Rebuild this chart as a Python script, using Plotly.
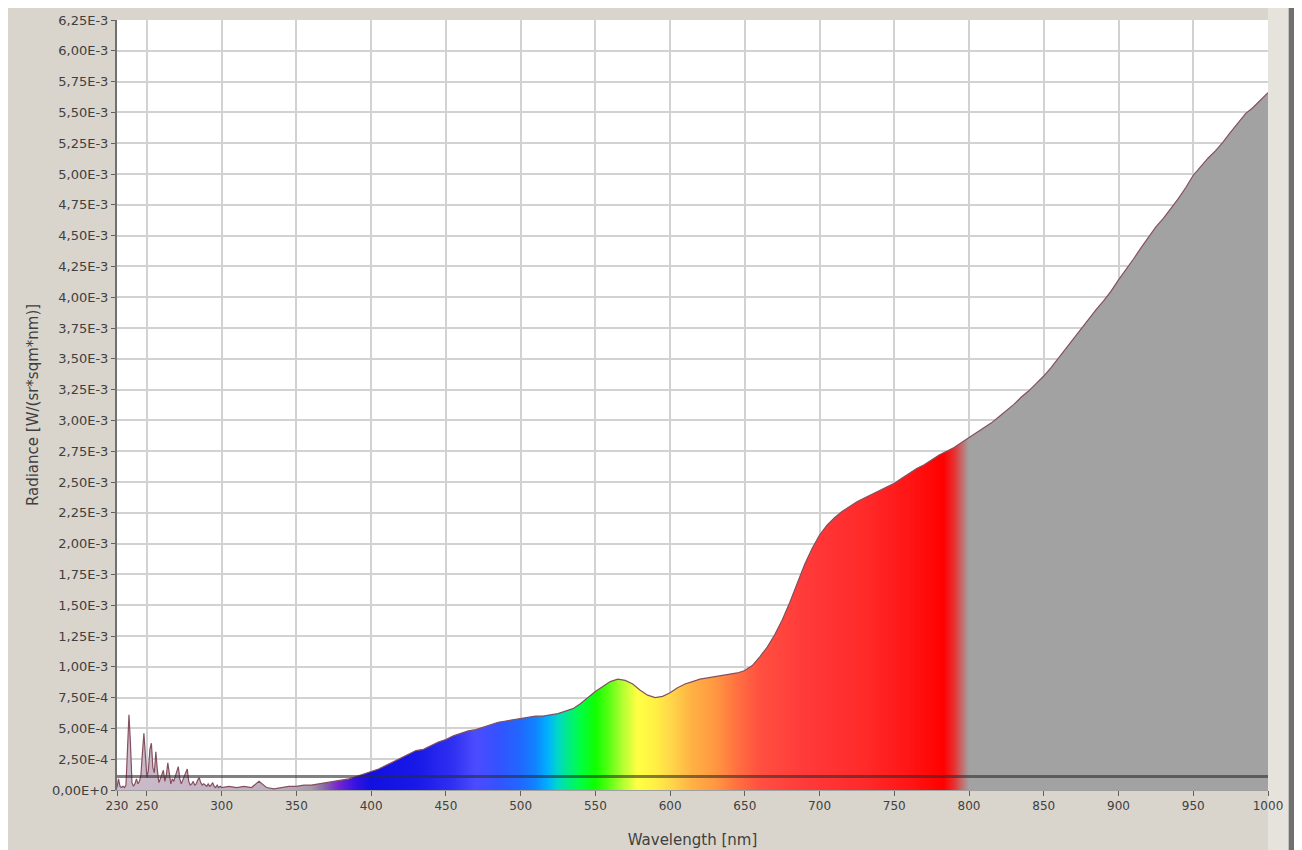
import plotly.graph_objects as go

# ---------------- data (radiance in units of 1E-3 W/(sr*sqm*nm)) ----------------
uv_wavelength_nm = list(range(230, 301))
uv_radiance_e3 = [
    0.02, 0.09, 0.03, 0.02, 0.03, 0.02, 0.04, 0.28, 0.61, 0.38,
    0.06, 0.03, 0.05, 0.09, 0.05, 0.07, 0.12, 0.30, 0.46, 0.28,
    0.10, 0.16, 0.33, 0.38, 0.18, 0.14, 0.31, 0.16, 0.06, 0.09,
    0.13, 0.16, 0.07, 0.12, 0.22, 0.13, 0.05, 0.09, 0.07, 0.11,
    0.15, 0.19, 0.09, 0.05, 0.08, 0.11, 0.14, 0.17, 0.07, 0.04,
    0.05, 0.07, 0.04, 0.05, 0.08, 0.10, 0.06, 0.04, 0.05, 0.04,
    0.03, 0.05, 0.03, 0.04, 0.06, 0.03, 0.02, 0.04, 0.02, 0.03,
    0.02,
]

vis_wavelength_nm = list(range(305, 1001, 5))
vis_radiance_e3 = [
    0.03, 0.02, 0.03, 0.02, 0.07, 0.02, 0.01, 0.02, 0.03, 0.03,   # 305-350
    0.04, 0.04, 0.05, 0.06, 0.07, 0.08, 0.09, 0.11, 0.13, 0.15,   # 355-400
    0.17, 0.20, 0.23, 0.26, 0.29, 0.32, 0.33, 0.36, 0.39, 0.41,   # 405-450
    0.44, 0.46, 0.48, 0.49, 0.51, 0.53, 0.55, 0.56, 0.57, 0.58,   # 455-500
    0.59, 0.60, 0.60, 0.61, 0.62, 0.64, 0.66, 0.70, 0.75, 0.80,   # 505-550
    0.84, 0.88, 0.90, 0.89, 0.86, 0.81, 0.77, 0.75, 0.76, 0.79,   # 555-600
    0.83, 0.86, 0.88, 0.90, 0.91, 0.92, 0.93, 0.94, 0.95, 0.97,   # 605-650
    1.01, 1.08, 1.16, 1.26, 1.38, 1.52, 1.67, 1.83, 1.96, 2.07,   # 655-700
    2.15, 2.21, 2.26, 2.30, 2.34, 2.37, 2.40, 2.43, 2.46, 2.49,   # 705-750
    2.53, 2.57, 2.61, 2.64, 2.68, 2.72, 2.75, 2.78, 2.82, 2.86,   # 755-800
    2.90, 2.94, 2.98, 3.03, 3.08, 3.13, 3.19, 3.24, 3.30, 3.36,   # 805-850
    3.43, 3.51, 3.58, 3.66, 3.74, 3.82, 3.90, 3.97, 4.05, 4.14,   # 855-900
    4.22, 4.31, 4.40, 4.49, 4.57, 4.64, 4.72, 4.80, 4.89, 4.99,   # 905-950
    5.06, 5.13, 5.19, 5.26, 5.34, 5.42, 5.49, 5.54, 5.60, 5.66,   # 955-1000
]

threshold_e3 = 0.11

x_tick_values = [230, 250, 300, 350, 400, 450, 500, 550, 600, 650, 700,
                 750, 800, 850, 900, 950, 1000]
x_tick_labels = ["230", "250", "300", "350", "400", "450", "500", "550", "600",
                 "650", "700", "750", "800", "850", "900", "950", "1000"]
y_tick_values_e3 = [0.0, 0.25, 0.5, 0.75, 1.0, 1.25, 1.5, 1.75, 2.0, 2.25, 2.5,
                    2.75, 3.0, 3.25, 3.5, 3.75, 4.0, 4.25, 4.5, 4.75, 5.0, 5.25,
                    5.5, 5.75, 6.0, 6.25]
y_tick_labels = ["0,00E+0", "2,50E-4", "5,00E-4", "7,50E-4", "1,00E-3", "1,25E-3",
                 "1,50E-3", "1,75E-3", "2,00E-3", "2,25E-3", "2,50E-3", "2,75E-3",
                 "3,00E-3", "3,25E-3", "3,50E-3", "3,75E-3", "4,00E-3", "4,25E-3",
                 "4,50E-3", "4,75E-3", "5,00E-3", "5,25E-3", "5,50E-3", "5,75E-3",
                 "6,00E-3", "6,25E-3"]

# ---------------- build ----------------
wavelength = uv_wavelength_nm + vis_wavelength_nm
radiance = [v * 1e-3 for v in uv_radiance_e3 + vis_radiance_e3]
y_tick_values = [v * 1e-3 for v in y_tick_values_e3]

X_MIN, X_MAX = 230, 1000
# spectral colour stops (style): wavelength -> colour
spectrum_stops = [
    (230, "#ccbccb"), (340, "#bfadbe"), (360, "#a898aa"), (368, "#8c6aa8"),
    (378, "#7424d0"), (390, "#3412e2"), (400, "#1010e0"), (430, "#1818e8"),
    (455, "#3030f2"), (470, "#4c4cff"), (485, "#3452ff"), (500, "#2068ff"),
    (510, "#1084ff"), (518, "#00b0ff"), (525, "#00d8c8"), (532, "#00ec84"),
    (540, "#00ff44"), (550, "#10ff00"), (558, "#50ff10"), (568, "#b0ff30"),
    (578, "#ffff44"), (590, "#fff044"), (600, "#ffd84a"), (615, "#ffb044"),
    (630, "#ff9842"), (645, "#ff7040"), (660, "#ff5040"), (690, "#ff3a3a"),
    (730, "#ff2a2a"), (760, "#ff1515"), (783, "#ff0000"), (790, "#e83030"),
    (795, "#c46a6a"), (800, "#a2a2a2"), (1000, "#a2a2a2"),
]
colorscale = [[(nm - X_MIN) / (X_MAX - X_MIN), c] for nm, c in spectrum_stops]

fig = go.Figure()
fig.add_trace(go.Scatter(
    x=wavelength, y=radiance, mode="lines",
    line=dict(color="#84505f", width=1.2),
    fill="tozeroy",
    fillgradient=dict(type="horizontal", colorscale=colorscale,
                      start=X_MIN, stop=X_MAX),
    hoverinfo="x+y", showlegend=False,
))

fig.add_hline(y=threshold_e3 * 1e-3, line=dict(color="rgba(45,45,45,0.6)", width=3))

font_family = "DejaVu Sans, Verdana, sans-serif"
fig.update_layout(
    # the page adds an 8px body margin, so the figure is sized to fill the rest
    width=1294, height=842,
    margin=dict(l=109, r=34, t=12, b=60, autoexpand=False),
    paper_bgcolor="#d9d5cd",
    plot_bgcolor="#ffffff",
    font=dict(family=font_family, size=12, color="#404040"),
    showlegend=False,
    xaxis=dict(
        range=[X_MIN, X_MAX], automargin=False,
        tickmode="array", tickvals=x_tick_values, ticktext=x_tick_labels,
        ticks="outside", ticklen=5, tickcolor="#606060", tickwidth=1,
        showgrid=True, gridcolor="#d2d2d2", gridwidth=1.5,
        showline=True, linecolor="#a0a0a0", linewidth=1,
        zeroline=False,
        title=dict(text="Wavelength [nm]", font=dict(size=15, color="#404040"), standoff=22),
        tickfont=dict(size=12, color="#404040"),
    ),
    yaxis=dict(
        range=[0, 6.25e-3], automargin=False,
        tickmode="array", tickvals=y_tick_values, ticktext=y_tick_labels,
        ticks="outside", ticklen=4, tickcolor="#606060", tickwidth=1,
        showgrid=True, gridcolor="#d2d2d2", gridwidth=1.5,
        showline=True, linecolor="#707070", linewidth=2,
        zeroline=False,
        title=dict(text="Radiance [W/(sr*sqm*nm)]", font=dict(size=15, color="#404040"), standoff=10),
        tickfont=dict(size=13, color="#404040"),
    ),
    shapes=[
        # window decoration: left light strip, right light strip and dark edge
        dict(type="rect", xref="paper", yref="paper", x0=-0.095, x1=-0.085,
             y0=-0.08, y1=1.02, fillcolor="#ebe8e2", line=dict(width=0), layer="below"),
        dict(type="rect", xref="paper", yref="paper", x0=1.0, x1=1.018,
             y0=-0.08, y1=1.02, fillcolor="#e6e3dd", line=dict(width=0), layer="below"),
        dict(type="rect", xref="paper", yref="paper", x0=1.018, x1=1.03,
             y0=-0.08, y1=1.02, fillcolor="#707070", line=dict(width=0), layer="below"),
    ],
)

fig.write_html("out.html")
